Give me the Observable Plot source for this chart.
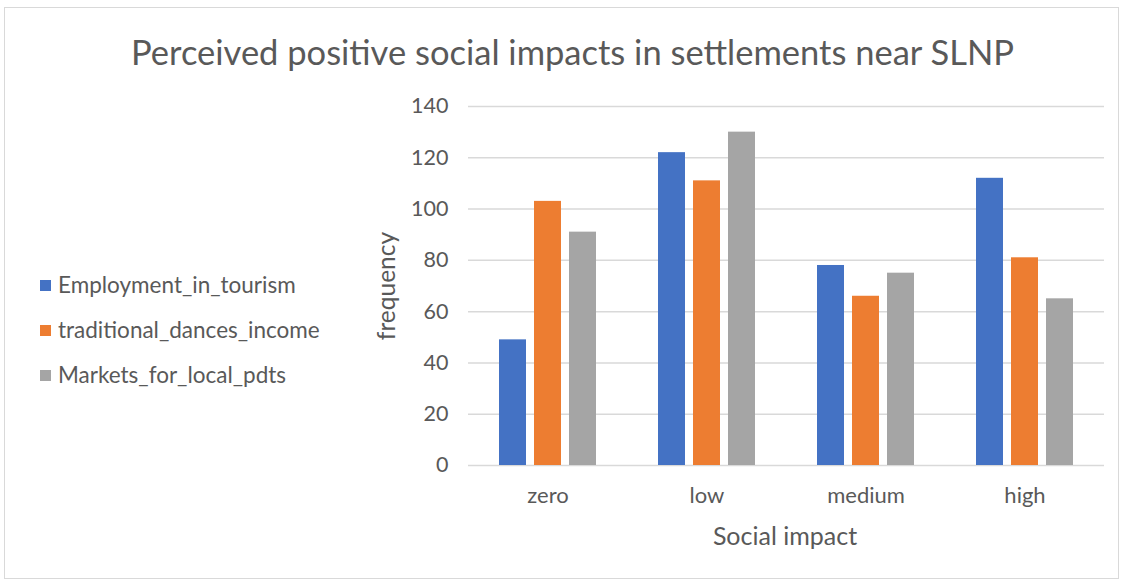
<!DOCTYPE html>
<html><head><meta charset="utf-8">
<script src="https://cdn.jsdelivr.net/npm/d3@7"></script>
<script src="https://cdn.jsdelivr.net/npm/@observablehq/plot@0.6"></script>
<style>
body{margin:0;background:#fff;font-family:Lato,"Open Sans",sans-serif;color:#595959;}
#wrap{position:relative;width:1123px;height:580px;overflow:hidden;background:#fff;}
#frame{position:absolute;left:4px;top:7px;width:1115px;height:572px;border:1.5px solid #d9d9d9;box-sizing:border-box;}
#title{position:absolute;left:0;width:1145px;top:31px;text-align:center;font-size:34.5px;line-height:42px;white-space:nowrap;}
#chart{position:absolute;left:0;top:90px;}
#legend{position:absolute;left:40px;top:0;}
.item{position:absolute;left:0;white-space:nowrap;font-size:22.5px;line-height:26px;display:flex;align-items:center;}
.sw{width:11px;height:11px;margin-right:7px;display:inline-block;}
#ylab{position:absolute;left:385px;top:286px;transform:translate(-50%,-50%) rotate(-90deg);font-size:24.5px;white-space:nowrap;}
#xlab{position:absolute;left:785px;top:535px;transform:translate(-50%,-50%);font-size:25px;white-space:nowrap;}
</style></head>
<body>
<div id="wrap">
<div id="frame"></div>
<div id="title">Perceived positive social impacts in settlements near SLNP</div>
<div id="chart"></div>
<div id="legend"></div>
<div id="ylab">frequency</div>
<div id="xlab">Social impact</div>
</div>
<script>
const categories = ["zero", "low", "medium", "high"];
const seriesNames = ["Employment_in_tourism", "traditional_dances_income", "Markets_for_local_pdts"];
const employment = [49, 122, 78, 112];
const dances = [103, 111, 66, 81];
const markets = [91, 130, 75, 65];
const colors = ["#4472C4", "#ED7D31", "#A5A5A5"];
const yTicks = [0, 20, 40, 60, 80, 100, 120, 140];

const seriesValues = [employment, dances, markets];
const data = [];
categories.forEach((c, i) => {
  seriesNames.forEach((s, j) => data.push({category: c, series: s, value: seriesValues[j][i]}));
});

const plot = Plot.plot({
  width: 1123, height: 490,
  marginLeft: 466, marginRight: 18, marginTop: 16, marginBottom: 115,
  style: {fontFamily: "Lato, 'Open Sans', sans-serif", color: "#595959", background: "transparent"},
  fx: {domain: categories, padding: 0},
  x: {domain: seriesNames, paddingInner: 0.222, paddingOuter: 0.833, axis: null},
  y: {domain: [0, 140], axis: null},
  color: {domain: seriesNames, range: colors},
  marks: [
    Plot.gridY(yTicks, {stroke: "#d9d9d9", strokeOpacity: 1, strokeWidth: 1.5}),
    Plot.barY(data, {fx: "category", x: "series", y: "value", fill: "series"}),
    Plot.axisY(yTicks, {anchor: "left", tickSize: 0, tickPadding: 20, fontSize: 21.5, label: null}),
    Plot.axisFx({anchor: "bottom", tickSize: 0, tickPadding: 22, fontSize: 22, label: null})
  ]
});
document.getElementById("chart").appendChild(plot);

const legend = document.getElementById("legend");
const rowY = [285, 330, 375];
seriesNames.forEach((s, j) => {
  const it = document.createElement("div");
  it.className = "item";
  it.style.top = (rowY[j] - 13) + "px";
  const sw = document.createElement("span");
  sw.className = "sw";
  sw.style.background = colors[j];
  it.appendChild(sw);
  it.appendChild(document.createTextNode(s));
  legend.appendChild(it);
});
</script>
</body></html>
